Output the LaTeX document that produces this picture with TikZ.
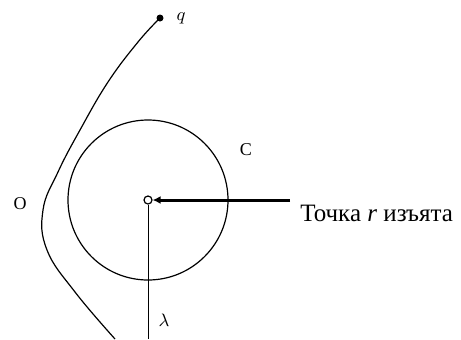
\documentclass[tikz,border=0pt]{standalone}
\usepackage{fontspec}
\setmainfont{Liberation Serif}
\usetikzlibrary{arrows.meta}
\begin{document}
\begin{tikzpicture}[x=0.5pt,y=-0.5pt]
\useasboundingbox (0,0) rectangle (461,339);
% circle C and the removed point r
\draw[line width=0.6pt] (148,200) circle (80);
\node[circle,draw,line width=0.6pt,fill=white,inner sep=0pt,minimum size=4pt] (r) at (148,200) {};
\node[circle,fill,inner sep=0pt,minimum size=3.5pt] (q) at (160,18) {};
\coordinate (lend) at (148,339);
\draw[line width=0.5pt] (r) -- (lend);
% curve O
\draw[line width=0.6pt] plot[smooth,tension=0.7] coordinates {(160,18) (138,42) (108,82) (80,130) (58,172) (43,210) (47,250) (75,292) (115,339)};
% labels
\node[font=\small] (lq) at (181,18) {$q$};
\node[font=\small] (lc) at (246,150) {C};
\node[font=\small] (lo) at (20,204) {O};
\node[font=\small] (ll) at (164,320) {$\lambda$};
\node[anchor=west,inner sep=0pt,font=\fontsize{12.5}{15}\selectfont] (txt) at (300,213) {Точка \textit{r} изъята};
\coordinate (astart) at (290,200);
\draw[line width=1.5pt,-{Latex[length=4pt,width=4pt]}] (astart) -- (r);
\end{tikzpicture}
\end{document}
